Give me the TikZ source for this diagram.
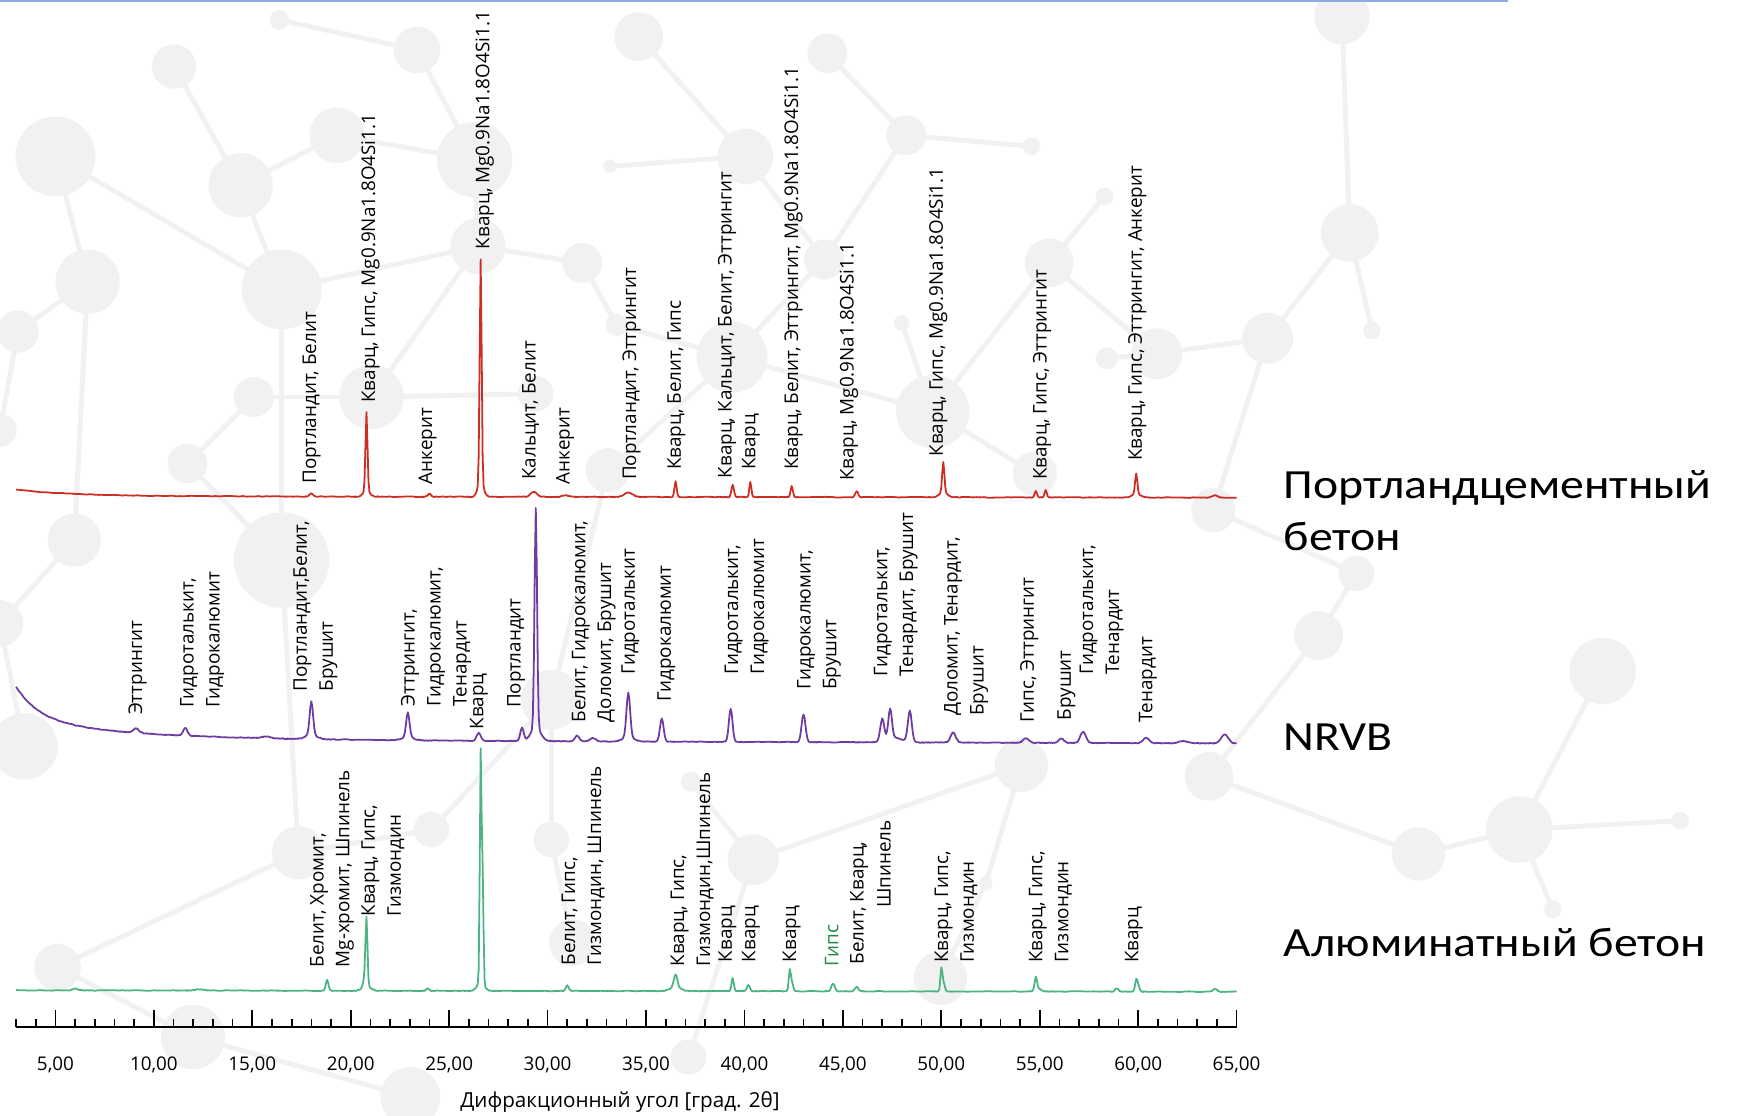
\documentclass[tikz,border=0pt]{standalone}
\usepackage{fontspec}
\newfontfamily\lblfont{Open Sans}
\newfontfamily\ttlfont{Carlito}[FakeStretch=1.15]
\definecolor{portred}{HTML}{CD2D23}
\definecolor{nrvbviolet}{HTML}{6E3CA0}
\definecolor{alugreen}{HTML}{4BB482}
\definecolor{gipsgreen}{HTML}{1E8C46}
\definecolor{bubble}{HTML}{F1F1F1}
\definecolor{topline}{HTML}{8FAADC}
\tikzset{
  lbl/.style={rotate=90, anchor=west, inner sep=0pt, align=left,
    font=\lblfont\fontsize{8.5}{11.7}\selectfont},
  ticklbl/.style={inner sep=0pt, font=\lblfont\fontsize{8.5}{11}\selectfont},
  ttl/.style={anchor=base west, inner sep=0pt, align=left,
    font=\ttlfont\fontsize{18.7}{23.3}\selectfont},
  trace/.style={line width=0.8pt, line join=round},
  bond/.style={line width=2.2pt, bubble},
  declare function={
    xp(\t)=50+(\t-5)*17.75;
    gs(\t,\m,\h,\s)=\h*exp(0-min(abs((\t-\m)/\s),4)*min(abs((\t-\m)/\s),4));
    bR(\t)=448-6*exp((3-\t)/3)+0.02*(\t-30)+0.3*rand;
    bP(\t)=668+0.05*(\t-20)-30*exp((3-\t)/1.2)-18*exp((3-\t)/6)+0.3*rand;
    bG(\t)=893.5+0.02*(\t-30)+0.3*rand;
  }
}
\begin{document}
\begin{tikzpicture}[x=0.5pt, y=-0.5pt]
  \useasboundingbox (0,0) rectangle (1568,1006);
  \pgfmathsetseed{11}
  \foreach \n/\bx/\by/\br in {a1/50/141/36, a2/157/60/20, a3/217/167/29, a4/254/261/36,
      a5/304/122/25, a6/376/45/21, a7/428/144/34, a8/431/222/25, a9/79/254/29,
      a10/16/299/19, a11/0/388/15, a12/335/358/29, a13/229/358/18, a14/169/418/18,
      a15/525/237/18, a16/252/18/9, a17/483/355/16,
      b1/576/33/22, b2/746/48/18, b3/817/122/18, b4/930/132/8, b5/672/141/25,
      b6/743/234/18, b7/660/322/32, b8/841/371/33, b9/946/237/22, b10/996/177/8,
      b11/998/323/10, b12/1043/319/23, b13/548/424/20, b14/933/427/20, b15/813/291/7,
      b16/550/150/6, b17/556/293/10,
      c1/1210/15/25, c2/1217/210/26, c3/1237/298/8, c4/1143/305/23, c5/1189/573/22,
      c6/1223/517/16, c7/1445/605/30, c8/1370/748/30, c9/1279/770/24, c10/1515/740/8,
      c11/1400/820/8, c12/1090/700/22, c13/1094/460/20,
      d1/254/505/43, d2/67/487/24, d3/0/562/21, d4/22/673/30, d5/497/631/27,
      e2/269/769/24, e3/389/748/16, e4/52/872/21, e5/174/935/29, e6/370/989/27,
      e7/497/757/16, e8/516/850/21, e9/623/705/9, e10/679/775/23, e11/921/690/24,
      e14/889/796/6, e15/848/882/24, e16/621/953/16}
  {
    \coordinate (\n) at (\bx,\by);
    \fill[bubble] (\n) circle (\br);
  }
  \begin{scope}[bond]
    \foreach \u/\v in {a1/a4, a1/a9, a9/a10, a10/a11, a2/a3, a3/a4, a3/a5, a5/a7,
        a6/a7, a16/a6, a4/a8, a4/d1, a7/a8, a8/a15, a12/a8, a12/a17, a13/a14,
        a12/a13, a9/d2, d2/d3, d3/d4, d1/e2, a14/d1,
        b1/b5, b5/b6, b6/b7, b2/b3, b3/b6, b3/b4, b7/b8, b7/b17, b8/b9, b9/b10,
        b9/b12, b12/b11, b8/b15, b8/b14, b13/b7, b16/b5, a15/b17, b12/c4,
        c1/c2, c2/c3, c2/c4, c4/c13, c13/c6, c6/c5, c5/c12, c12/c9, c9/c8, c8/c7,
        c8/c10, c8/c11,
        d5/b13, d5/e7, e2/e3, e2/e4, e4/e5, e5/e6, e7/e8, e9/e10, e10/e11,
        e11/e14, e14/e15, e10/e16, e3/d5}
      \draw (\u) -- (\v);
  \end{scope}
  \draw[topline, line width=1pt] (0,1) -- (1360,1);

  \draw[trace, portred] plot[domain=3:17.7, samples=75] ({xp(\x)},{bR(\x)})
    \foreach \a/\b/\n/\f in {
      17.7/18.3/13/{gs(\x,18,3,0.12)}, 18.3/20.2/11/{0},
      20.2/21.4/25/{gs(\x,20.8,70,0.07)+gs(\x,20.8,6,0.22)}, 21.4/23.7/13/{0},
      23.7/24.3/13/{gs(\x,24,2.5,0.12)}, 24.3/26/10/{0},
      26/27.2/25/{gs(\x,26.6,200,0.07)+gs(\x,26.6,14,0.2)}, 27.2/28.7/9/{0},
      28.7/29.9/25/{gs(\x,29.3,4.5,0.22)}, 29.9/30.4/4/{0},
      30.4/31.4/21/{gs(\x,30.9,1.5,0.2)}, 31.4/33.2/10/{0},
      33.2/35/37/{gs(\x,34.1,4,0.3)}, 35/36.2/7/{0},
      36.2/36.8/13/{gs(\x,36.5,14,0.08)}, 36.8/39.1/13/{0},
      39.1/39.7/13/{gs(\x,39.4,11,0.09)}, 39.7/40/3/{0},
      40/40.6/13/{gs(\x,40.3,14,0.07)}, 40.6/42.1/9/{0},
      42.1/42.7/13/{gs(\x,42.4,10,0.08)}, 42.7/45.4/15/{0},
      45.4/46/13/{gs(\x,45.7,5.5,0.1)}, 46/49.2/17/{0},
      49.2/51/37/{gs(\x,50.1,28,0.08)+gs(\x,50.1,4,0.3)}, 51/54.5/19/{0},
      54.5/55.6/23/{gs(\x,54.8,6,0.08)+gs(\x,55.3,6.5,0.08)}, 55.6/59/18/{0},
      59/60.8/37/{gs(\x,59.9,19,0.08)+gs(\x,59.9,3,0.3)}, 60.8/63.4/14/{0},
      63.4/64.4/21/{gs(\x,63.9,2,0.2)}, 64.4/65/4/{0}}
    { -- plot[domain=\a:\b, samples=\n] ({xp(\x)},{bR(\x)-(\f)}) };

  \draw[trace, nrvbviolet] plot[domain=3:8.3, samples=54] ({xp(\x)},{bP(\x)})
    \foreach \a/\b/\n/\f in {
      8.3/9.9/33/{gs(\x,9.1,4,0.2)}, 9.9/11/6/{0},
      11/12.2/25/{gs(\x,11.6,7,0.15)}, 12.2/14.8/14/{0},
      14.8/16.6/37/{gs(\x,15.7,1.5,0.3)}, 16.6/16.8/2/{0},
      16.8/19.2/49/{gs(\x,18,30,0.12)+gs(\x,18,4,0.4)}, 19.2/21.7/13/{0},
      21.7/24.1/49/{gs(\x,22.9,22,0.12)+gs(\x,22.9,3,0.4)}, 24.1/25.9/10/{0},
      25.9/27.1/25/{gs(\x,26.5,7,0.15)}, 27.1/28.1/6/{0},
      28.1/30.7/53/{gs(\x,28.7,12,0.12)+gs(\x,29.4,198,0.09)+gs(\x,29.4,12,0.35)},
      30.7/33/47/{gs(\x,31.5,5,0.15)+gs(\x,32.3,3,0.2)},
      33/35.2/45/{gs(\x,34.1,40,0.13)+gs(\x,34.1,4,0.4)},
      35.2/36.4/25/{gs(\x,35.8,21,0.13)}, 36.4/38.7/13/{0},
      38.7/39.9/25/{gs(\x,39.3,30,0.13)}, 39.9/42.3/13/{0},
      42.3/43.7/29/{gs(\x,43,25,0.14)}, 43.7/45.6/11/{0},
      45.6/49.4/77/{gs(\x,47,20,0.14)+gs(\x,47.4,27,0.13)+gs(\x,48.4,28,0.14)+gs(\x,47.6,4,0.6)},
      49.4/49.8/3/{0},
      49.8/51.4/33/{gs(\x,50.6,9,0.18)}, 51.4/53.5/12/{0},
      53.5/55.1/33/{gs(\x,54.3,4,0.2)}, 55.1/55.3/2/{0},
      55.3/58/55/{gs(\x,56.1,4,0.18)+gs(\x,57.2,10,0.2)}, 58/59.6/9/{0},
      59.6/61.2/33/{gs(\x,60.4,5,0.2)}, 61.2/61.4/2/{0},
      61.4/63.2/37/{gs(\x,62.3,2,0.3)},
      63.2/65/37/{gs(\x,64.4,8,0.25)}}
    { -- plot[domain=\a:\b, samples=\n] ({xp(\x)},{bP(\x)-(\f)}) };

  \draw[trace, alugreen] plot[domain=3:5.2, samples=12] ({xp(\x)},{bG(\x)})
    \foreach \a/\b/\n/\f in {
      5.2/6.8/33/{gs(\x,6,1.5,0.2)}, 6.8/11.4/24/{0},
      11.4/13.2/37/{gs(\x,12.3,1,0.3)}, 13.2/18.5/28/{0},
      18.5/19.1/13/{gs(\x,18.8,10,0.09)}, 19.1/19.9/5/{0},
      19.9/21.7/37/{gs(\x,20.8,60,0.07)+gs(\x,20.7,8,0.1)+gs(\x,20.8,4,0.3)},
      21.7/23.6/11/{0},
      23.6/24.2/13/{gs(\x,23.9,2,0.1)}, 24.2/25.7/9/{0},
      25.7/27.5/37/{gs(\x,26.6,205,0.06)+gs(\x,26.7,95,0.06)+gs(\x,26.6,8,0.25)},
      27.5/30.7/17/{0},
      30.7/31.3/13/{gs(\x,31,5,0.1)}, 31.3/34.9/19/{0},
      34.9/38.1/65/{gs(\x,36.5,12,0.13)+gs(\x,36.5,3,0.4)}, 38.1/39.1/6/{0},
      39.1/40.6/31/{gs(\x,39.4,12,0.08)+gs(\x,40.2,6,0.1)}, 40.6/41.9/7/{0},
      41.9/42.8/19/{gs(\x,42.3,17,0.07)+gs(\x,42.4,8,0.1)}, 42.8/44.1/7/{0},
      44.1/46.1/41/{gs(\x,44.5,7,0.12)+gs(\x,45.7,4,0.12)}, 46.1/49.6/18/{0},
      49.6/50.5/19/{gs(\x,50,19,0.07)+gs(\x,50.1,8,0.1)}, 50.5/54.4/20/{0},
      54.4/55.6/25/{gs(\x,54.8,11,0.08)+gs(\x,54.9,3,0.2)}, 55.6/58.5/16/{0},
      58.5/60.4/39/{gs(\x,58.9,3,0.12)+gs(\x,59.9,10,0.08)+gs(\x,60,5,0.1)},
      60.4/63.4/16/{0},
      63.4/64.4/21/{gs(\x,63.9,2.5,0.15)}, 64.4/65/4/{0}}
    { -- plot[domain=\a:\b, samples=\n] ({xp(\x)},{bG(\x)-(\f)}) };

  \coordinate (ax0) at ({xp(3)},926.4);
  \coordinate (ax1) at ({xp(65)},926.4);
  \draw[line width=0.9pt] (ax0) -- (ax1);
  \foreach \k in {3,...,65}
    \draw[line width=0.75pt] ({xp(\k)},926.4) -- ++(0,-7.4);
  \foreach \k in {5,10,...,65}
  {
    \draw[line width=0.75pt] ({xp(\k)},926.4) -- ++(0,-15.7);
    \node[ticklbl] (t\k) at ({xp(\k)},960.3) {\k,00};
  }
  \node[ticklbl, font=\lblfont\fontsize{9.3}{11}\selectfont] (xtitle) at (559,993.4)
    {Дифракционный угол [град. 2θ]};

  \node[lbl] (r1) at (281,436.5) {Портландит, Белит};
  \node[lbl] (r2) at (334,363.5) {Кварц, Гипс, Mg0.9Na1.8O4Si1.1};
  \node[lbl] (r3) at (385.5,437) {Анкерит};
  \node[lbl] (r4) at (437,225) {Кварц, Mg0.9Na1.8O4Si1.1};
  \node[lbl] (r5) at (478.5,433) {Кальцит, Белит};
  \node[lbl] (r6) at (509.5,437) {Анкерит};
  \node[lbl] (r7) at (569.5,433) {Портландит, Эттрингит};
  \node[lbl] (r8) at (610,424) {Кварц, Белит, Гипс};
  \node[lbl] (r9) at (655.5,431.5) {Кварц, Кальцит, Белит, Эттрингит};
  \node[lbl] (r10) at (677,424) {Кварц};
  \node[lbl] (r11) at (715.5,424) {Кварц, Белит, Эттрингит, Mg0.9Na1.8O4Si1.1};
  \node[lbl] (r12) at (765.5,434) {Кварц, Mg0.9Na1.8O4Si1.1};
  \node[lbl] (r13) at (846,412) {Кварц, Гипс, Mg0.9Na1.8O4Si1.1};
  \node[lbl] (r14) at (939.5,433) {Кварц, Гипс, Эттрингит};
  \node[lbl] (r15) at (1025.5,416) {Кварц, Гипс, Эттрингит, Анкерит};

  \node[lbl] (n1) at (124,645) {Эттрингит};
  \node[lbl] (n2) at (182.3,638.7) {Гидроталькит,\\Гидрокалюмит};
  \node[lbl] (n3) at (284.4,623.7) {Портландит,Белит,\\Брушит};
  \node[lbl] (n4) at (393.2,637.2) {Эттрингит,\\Гидрокалюмит,\\Тенардит};
  \node[lbl] (n5) at (431.7,658) {Кварц};
  \node[lbl] (n6) at (465.3,638.7) {Портландит};
  \node[lbl] (n7) at (535.4,651.6) {Белит, Гидрокалюмит,\\Доломит, Брушит};
  \node[lbl] (n8) at (568.5,608.7) {Гидроталькит};
  \node[lbl] (n9) at (600.8,632.7) {Гидрокалюмит};
  \node[lbl] (n10) at (673.2,608.7) {Гидроталькит,\\Гидрокалюмит};
  \node[lbl] (n11) at (738.5,622.2) {Гидрокалюмит,\\Брушит};
  \node[lbl] (n12) at (807.7,610.2) {Гидроталькит,\\Тенардит, Брушит};
  \node[lbl] (n13) at (871.2,645.6) {Доломит, Тенардит,\\Брушит};
  \node[lbl] (n14) at (928,651.6) {Гипс, Эттрингит};
  \node[lbl] (n15) at (961.5,649.8) {Брушит};
  \node[lbl] (n16) at (993.3,608.7) {Гидроталькит,\\Тенардит};
  \node[lbl] (n17) at (1035,651.6) {Тенардит};

  \node[lbl] (g1) at (299.4,872.6) {Белит, Хромит,\\Mg-хромит, Шпинель};
  \node[lbl] (g2) at (345.2,826.6) {Кварц, Гипс,\\Гизмондин};
  \node[lbl] (g3) at (525.7,870.8) {Белит, Гипс,\\Гизмондин, Шпинель};
  \node[lbl] (g4) at (624,871.7) {Кварц, Гипс,\\Гизмондин,Шпинель};
  \node[lbl] (g5) at (655.8,868) {Кварц};
  \node[lbl] (g6) at (677,868) {Кварц};
  \node[lbl] (g7) at (713.7,868) {Кварц};
  \node[lbl, text=gipsgreen] (g8) at (750,871.7) {Гипс};
  \node[lbl] (g9) at (774.6,870) {Белит, Кварц,};
  \node[lbl] (g10) at (797,819) {Шпинель};
  \node[lbl] (g11) at (862,868.6) {Кварц, Гипс,\\Гизмондин};
  \node[lbl] (g12) at (947,868.6) {Кварц, Гипс,\\Гизмондин};
  \node[lbl] (g13) at (1022.4,868.6) {Кварц};

  \node[ttl] (tport) at (1157,496) {Портландцементный\\бетон};
  \node[ttl] (tnrvb) at (1157,677) {NRVB};
  \node[ttl] (talu) at (1157,862) {Алюминатный бетон};
\end{tikzpicture}
\end{document}
